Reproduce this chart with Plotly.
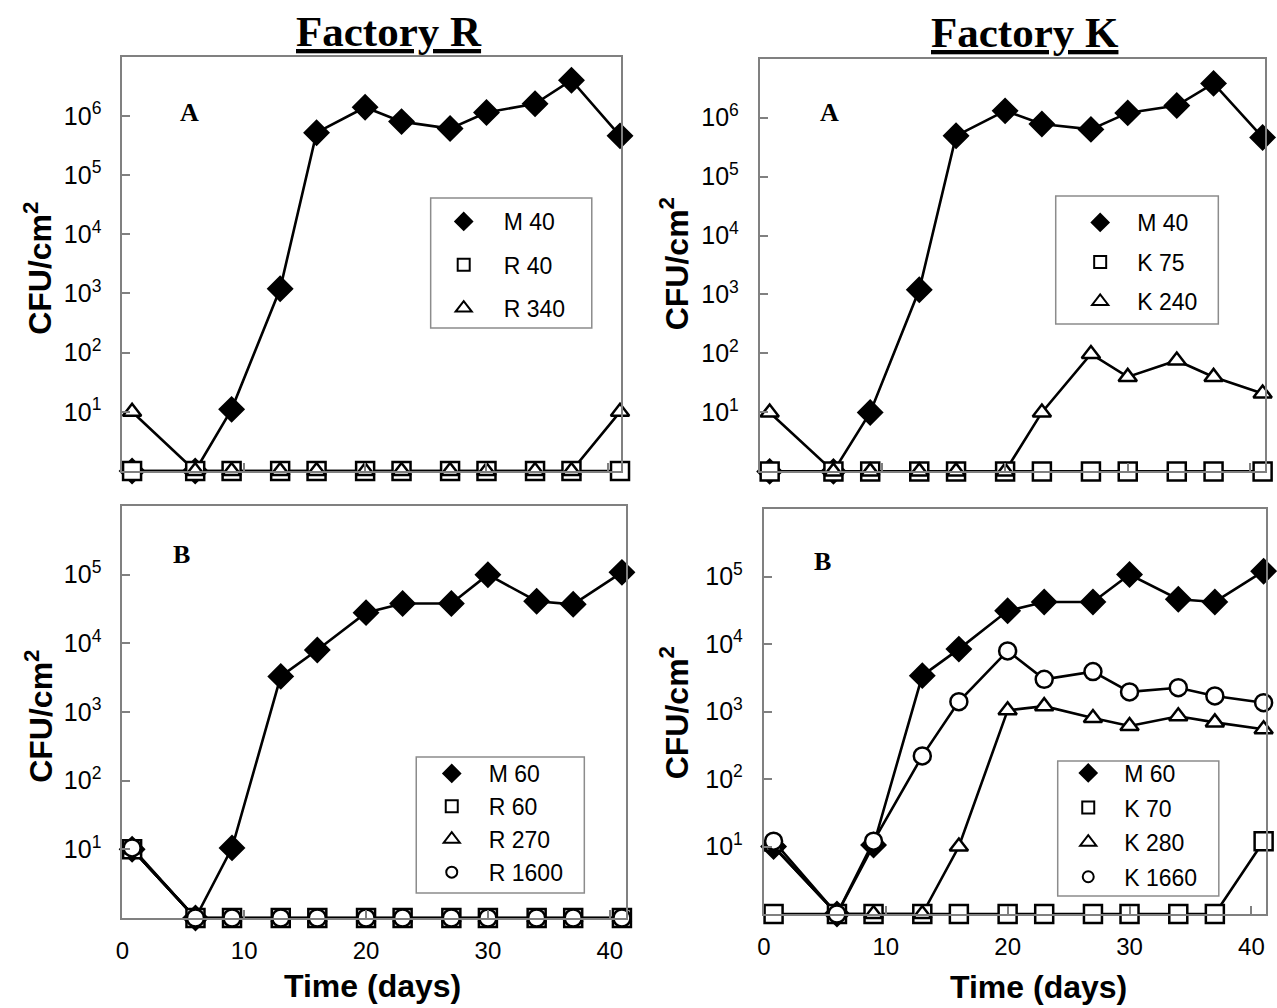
import plotly.graph_objects as go

# ---------------- data ----------------
# sampling days
days = [0.8, 6, 9, 13, 16, 20, 23, 27, 30, 34, 37, 41]

# Factory R, panel A  (CFU/cm2; "not detected" sits on the 10^0 baseline)
r_a_m40 = [1, 1, 11, 1200, 5.2e5, 1.4e6, 8.0e5, 6.1e5, 1.14e6, 1.6e6, 4.0e6, 4.6e5]
r_a_r40 = [1, 1, 1, 1, 1, 1, 1, 1, 1, 1, 1, 1]
r_a_r340 = [10, 1, 1, 1, 1, 1, 1, 1, 1, 1, 1, 10]

# Factory K, panel A
k_a_m40 = [1, 1, 10, 1200, 4.9e5, 1.3e6, 7.8e5, 6.3e5, 1.2e6, 1.6e6, 3.8e6, 4.6e5]
k_a_k75 = [1, 1, 1, 1, 1, 1, 1, 1, 1, 1, 1, 1]
k_a_k240 = [10, 1, 1, 1, 1, 1, 10, 98, 40, 76, 40, 21]

# Factory R, panel B
r_b_m60 = [10, 1, 10.5, 3300, 8000, 2.8e4, 3.8e4, 3.8e4, 1.0e5, 4.1e4, 3.7e4, 1.08e5]
r_b_r60 = [10, 1, 1, 1, 1, 1, 1, 1, 1, 1, 1, 1]
r_b_r270 = [10, 1, 1, 1, 1, 1, 1, 1, 1, 1, 1, 1]
r_b_r1600 = [10.5, 1, 1, 1, 1, 1, 1, 1, 1, 1, 1, 1]

# Factory K, panel B
k_b_m60 = [10, 1, 10.5, 3400, 8400, 3.1e4, 4.2e4, 4.2e4, 1.07e5, 4.6e4, 4.2e4, 1.2e5]
k_b_k70 = [1, 1, 1, 1, 1, 1, 1, 1, 1, 1, 1, 12]
k_b_k280 = [10, 1, 1, 1, 10, 1040, 1200, 800, 610, 850, 690, 545]
k_b_k1660 = [12, 1, 12, 220, 1400, 7900, 3000, 3900, 1950, 2250, 1700, 1350]

x_ticks = [0, 10, 20, 30, 40]
y_exps_top = [1, 2, 3, 4, 5, 6]
y_exps_bottom = [1, 2, 3, 4, 5]

# ---------------- styling ----------------
W, H = 1277, 1008


def fx(p):
    return p / W


def fy(p):
    return 1 - p / H


SANS = "Arial, 'Liberation Sans', sans-serif"
SERIF = "'Times New Roman', 'Liberation Serif', serif"
FRAME = "#808080"

STYLES = {
    "diamond": dict(symbol="diamond", fill="black", size=18, lsize=13),
    "square": dict(symbol="square", fill="white", size=18, lsize=12),
    "triangle": dict(symbol="triangle-up", fill="white", size=16, lsize=14),
    "circle": dict(symbol="circle", fill="white", size=17, lsize=11),
}

panels = [
    dict(xa="x", ya="y", legend="legend", series=[
        ("M 40", r_a_m40, "diamond"),
        ("R 40", r_a_r40, "square"),
        ("R 340", r_a_r340, "triangle"),
    ]),
    dict(xa="x2", ya="y2", legend="legend2", series=[
        ("M 40", k_a_m40, "diamond"),
        ("K 75", k_a_k75, "square"),
        ("K 240", k_a_k240, "triangle"),
    ]),
    dict(xa="x3", ya="y3", legend="legend3", series=[
        ("M 60", r_b_m60, "diamond"),
        ("R 60", r_b_r60, "square"),
        ("R 270", r_b_r270, "triangle"),
        ("R 1600", r_b_r1600, "circle"),
    ]),
    dict(xa="x4", ya="y4", legend="legend4", series=[
        ("M 60", k_b_m60, "diamond"),
        ("K 70", k_b_k70, "square"),
        ("K 280", k_b_k280, "triangle"),
        ("K 1660", k_b_k1660, "circle"),
    ]),
]

fig = go.Figure()

for p in panels:
    # lines first (beneath every marker)
    for name, vals, st in p["series"]:
        fig.add_trace(go.Scatter(
            x=days, y=vals, mode="lines", xaxis=p["xa"], yaxis=p["ya"],
            line=dict(color="black", width=2.6), showlegend=False,
            cliponaxis=False, hoverinfo="skip"))
    # markers
    for name, vals, st in p["series"]:
        s = STYLES[st]
        fig.add_trace(go.Scatter(
            x=days, y=vals, mode="markers", xaxis=p["xa"], yaxis=p["ya"], name=name,
            marker=dict(symbol=s["symbol"], size=s["size"], color=s["fill"],
                        line=dict(color="black", width=2.5)),
            showlegend=False, cliponaxis=False))
    # legend entries (symbols only)
    for i, (name, vals, st) in enumerate(p["series"]):
        s = STYLES[st]
        fig.add_trace(go.Scatter(
            x=[None], y=[None], mode="markers", xaxis=p["xa"], yaxis=p["ya"], name=name,
            legend=p["legend"], legendgroup=p["legend"] + str(i),
            marker=dict(symbol=s["symbol"], size=s["lsize"], color=s["fill"],
                        line=dict(color="black", width=2)),
            showlegend=True))


def xaxis_cfg(d0, d1, rng, anchor, labels):
    return dict(domain=[fx(d0), fx(d1)], range=rng, anchor=anchor,
                showline=True, mirror=True, linecolor=FRAME, linewidth=2,
                ticks="inside", ticklen=8, tickwidth=1.5, tickcolor=FRAME,
                tickvals=x_ticks, showticklabels=labels, ticklabelstandoff=10,
                tickfont=dict(family=SANS, size=24, color="black"),
                showgrid=False, zeroline=False)


def yaxis_cfg(top, bottom, rng, anchor, exps):
    return dict(domain=[fy(bottom), fy(top)], type="log", range=rng, anchor=anchor,
                showline=True, mirror=True, linecolor=FRAME, linewidth=2,
                ticks="inside", ticklen=8, tickwidth=1.5, tickcolor=FRAME,
                tickvals=[10 ** e for e in exps],
                ticktext=["10<sup>%d</sup>" % e for e in exps],
                ticklabelstandoff=14,
                tickfont=dict(family=SANS, size=25, color="black"),
                showgrid=False, zeroline=False)


def legend_cfg(left, top, itemwidth, gap):
    return dict(x=fx(left), y=fy(top), xanchor="left", yanchor="top",
                xref="paper", yref="paper", bgcolor="rgba(0,0,0,0)", borderwidth=0,
                font=dict(family=SANS, size=23, color="black"),
                itemwidth=itemwidth, tracegroupgap=gap, traceorder="grouped")


annotations = []


def add_text(text, x, y, size, family, angle=0):
    annotations.append(dict(text=text, x=fx(x), y=fy(y), xref="paper", yref="paper",
                            xanchor="center", yanchor="middle", showarrow=False,
                            textangle=angle,
                            font=dict(family=family, size=size, color="black")))


add_text("<b><u>Factory R</u></b>", 384, 31, 43, SERIF)
add_text("<b><u>Factory K</u></b>", 1024, 33, 43, SERIF)
add_text("<b>A</b>", 184, 112, 26, SERIF)
add_text("<b>A</b>", 827, 112, 26, SERIF)
add_text("<b>B</b>", 175, 554, 26, SERIF)
add_text("<b>B</b>", 820, 561, 26, SERIF)
add_text("<b>CFU/cm<sup>2</sup></b>", 31, 268, 32, SANS, -90)
add_text("<b>CFU/cm<sup>2</sup></b>", 671, 264, 32, SANS, -90)
add_text("<b>CFU/cm<sup>2</sup></b>", 32, 716, 32, SANS, -90)
add_text("<b>CFU/cm<sup>2</sup></b>", 671, 713, 32, SANS, -90)
add_text("<b>Time (days)</b>", 368, 986, 32, SANS)
add_text("<b>Time (days)</b>", 1037, 987, 32, SANS)

shapes = []
for (x0, y0, x1, y1) in [(426, 198, 588, 328), (1054.5, 196, 1218, 324),
                         (411.5, 757, 580.5, 893), (1056.5, 761, 1218.5, 896)]:
    shapes.append(dict(type="rect", xref="paper", yref="paper",
                       x0=fx(x0), x1=fx(x1), y0=fy(y1), y1=fy(y0),
                       line=dict(color="#8c8c8c", width=1.5), fillcolor="rgba(0,0,0,0)"))

fig.update_layout(
    width=W, height=H, margin=dict(l=0, r=0, t=0, b=0),
    paper_bgcolor="white", plot_bgcolor="white",
    xaxis=xaxis_cfg(116, 617, [0, 41.05], "y", False),
    yaxis=yaxis_cfg(56.7, 471, [0, 7], "x", y_exps_top),
    xaxis2=xaxis_cfg(757, 1265, [0, 41.2], "y2", False),
    yaxis2=yaxis_cfg(58.6, 471.4, [0, 7], "x2", y_exps_top),
    xaxis3=xaxis_cfg(116, 622, [0, 41.3], "y3", True),
    yaxis3=yaxis_cfg(506, 918, [0, 6], "x3", y_exps_bottom),
    xaxis4=xaxis_cfg(761, 1266, [0, 41.2], "y4", True),
    yaxis4=yaxis_cfg(509, 914, [0, 6], "x4", y_exps_bottom),
    legend=legend_cfg(419, 200, 70, 10.4),
    legend2=legend_cfg(1062, 201, 64, 6.6),
    legend3=legend_cfg(410, 752, 64, 0),
    legend4=legend_cfg(1051, 751.5, 62, 1.7),
    annotations=annotations,
    shapes=shapes,
    showlegend=True,
)

fig.write_html(
    "out.html",
    config={"displayModeBar": False},
    post_script="document.body.style.margin='0';document.body.style.overflow='hidden';",
)
